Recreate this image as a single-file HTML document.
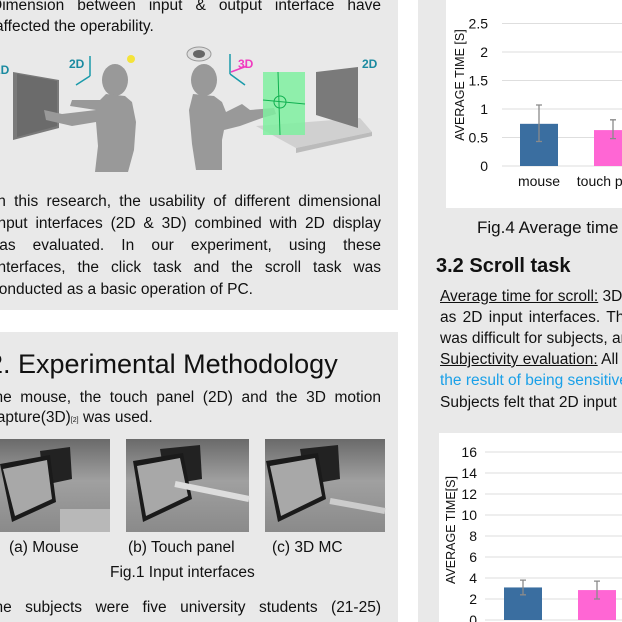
<!DOCTYPE html>
<html><head><meta charset="utf-8">
<style>
*{margin:0;padding:0;box-sizing:border-box}
body{width:622px;height:622px;overflow:hidden;background:#fff;position:relative;font-family:"Liberation Sans",Arial,sans-serif;color:#111}
.abs{position:absolute}
.panel{position:absolute;background:#e9e9e9}
.line{position:absolute;font-size:15.5px;white-space:nowrap;line-height:20px}
.just{text-align:justify;text-align-last:justify}
u{text-decoration:underline}
</style></head><body>
<div class="panel" style="left:0;top:0;width:398px;height:310px"></div>
<div class="panel" style="left:0;top:332px;width:398px;height:290px"></div>
<div class="panel" style="left:418px;top:0;width:204px;height:622px"></div>

<div class="line just" style="left:-9px;top:-4px;width:390px">Dimension between input &amp; output interface have</div>
<div class="line" style="left:-5px;top:17px">affected the operability.</div>

<svg class="abs" style="left:0;top:40px" width="400" height="140" viewBox="0 0 400 140">
  <text x="-6" y="34" font-size="12" font-weight="bold" fill="#1a8aa0" font-family="Liberation Sans">2D</text>
  <polygon points="13,32 59,40 59,88 13,100" fill="#7a7a7a"/>
  <polygon points="17,34 57,41 57,86 17,97" fill="#6b6b6b"/>
  <text x="69" y="28" font-size="12" font-weight="bold" fill="#1a8aa0" font-family="Liberation Sans">2D</text>
  <path d="M90,36 L90,16 M90,36 L76,45" stroke="#1a9aaa" stroke-width="1.5" fill="none"/>
  <circle cx="131" cy="19" r="4" fill="#f4e33a"/>
  <ellipse cx="115" cy="40" rx="13" ry="16" fill="#999"/>
  <path d="M106,54 L100,60 L72,60 L70,66 L96,70 L62,74 L44,70 L46,80 L72,86 L96,82 L98,106 L95,132 L128,132 L134,110 L136,82 L132,62 L125,56 Z" fill="#999"/>
  <text x="238" y="28" font-size="12" font-weight="bold" fill="#f03cc0" font-family="Liberation Sans">3D</text>
  <path d="M230,34 L230,14 M230,34 L245,45" stroke="#1a9aaa" stroke-width="1.5" fill="none"/>
  <path d="M231,32 L247,26" stroke="#f03cc0" stroke-width="1.5"/>
  <ellipse cx="199" cy="14" rx="12" ry="7" fill="#ddd" stroke="#999"/>
  <ellipse cx="199" cy="14" rx="6" ry="4" fill="#666"/>
  <ellipse cx="204" cy="40" rx="13" ry="16" fill="#999"/>
  <path d="M193,54 L189,70 L192,104 L196,130 L222,130 L222,100 L224,90 L240,86 L262,78 L276,74 L274,68 L250,70 L242,64 L226,72 L222,62 L214,56 Z" fill="#999"/>
  <polygon points="256,86 360,78 372,92 296,108" fill="#d0d0d0"/>
  <polygon points="296,108 372,92 372,96 296,113" fill="#bbb"/>
  <rect x="263" y="32" width="42" height="63" fill="#7ff0a0" opacity="0.85"/>
  <path d="M263,60 L305,64 M278,32 L280,95" stroke="#10b050" stroke-width="1"/>
  <circle cx="280" cy="62" r="6" fill="none" stroke="#10b050"/>
  <polygon points="316,32 358,27 358,88 316,75" fill="#7a7a7a"/>
  <text x="362" y="28" font-size="12" font-weight="bold" fill="#1a8aa0" font-family="Liberation Sans">2D</text>
</svg>

<div class="line just" style="left:-7px;top:192px;width:388px">In this research, the usability of different dimensional</div>
<div class="line just" style="left:-6px;top:214px;width:387px">input interfaces (2D &amp; 3D) combined with 2D display</div>
<div class="line just" style="left:-12px;top:236px;width:393px">was evaluated. In our experiment, using these</div>
<div class="line just" style="left:-6px;top:258px;width:387px">interfaces, the click task and the scroll task was</div>
<div class="line" style="left:-9px;top:280px">conducted as a basic operation of PC.</div>

<div class="abs" style="left:-12px;top:346px;font-family:'Liberation Sans',sans-serif;font-size:27px;white-space:nowrap;line-height:36px">2. Experimental Methodology</div>
<div class="line just" style="left:-15px;top:388px;width:396px">The mouse, the touch panel (2D) and the 3D motion</div>
<div class="line" style="left:-11px;top:408px">capture(3D)<span style="font-size:7px">[2]</span> was used.</div>

<svg class="abs" style="left:0;top:439px" width="400" height="94">
  <defs><linearGradient id="pg" x1="0" y1="0" x2="0" y2="1"><stop offset="0" stop-color="#6a6a6a"/><stop offset="0.45" stop-color="#a0a0a0"/><stop offset="1" stop-color="#8a8a8a"/></linearGradient></defs>
  <g><rect x="0" y="0" width="110" height="93" fill="url(#pg)"/><polygon points="40,12 70,8 72,40 44,46" fill="#222"/><polygon points="0,25 50,16 56,63 12,83" fill="#1a1a1a"/><polygon points="3,30 47,21 52,60 15,77" fill="#a8a8a8"/><rect x="60" y="70" width="50" height="23" fill="#b8b8b8"/></g>
  <g><rect x="126" y="0" width="123" height="93" fill="url(#pg)"/><polygon points="160,10 200,6 202,40 166,46" fill="#222"/><polygon points="133,22 183,14 192,60 143,83" fill="#1a1a1a"/><polygon points="137,27 180,19 188,57 146,77" fill="#a8a8a8"/><path d="M175,45 L249,60" stroke="#ddd" stroke-width="6"/></g>
  <g><rect x="265" y="0" width="120" height="93" fill="url(#pg)"/><polygon points="300,10 338,6 340,40 306,46" fill="#222"/><polygon points="266,22 318,14 326,60 278,83" fill="#1a1a1a"/><polygon points="270,27 315,19 322,57 281,77" fill="#a8a8a8"/><path d="M330,62 L385,72" stroke="#ccc" stroke-width="6"/></g>
</svg>
<div class="line" style="left:9px;top:538px">(a) Mouse</div>
<div class="line" style="left:128px;top:538px">(b) Touch panel</div>
<div class="line" style="left:272px;top:538px">(c) 3D MC</div>
<div class="line" style="left:110px;top:563px">Fig.1 Input interfaces</div>
<div class="line just" style="left:-15px;top:598px;width:396px">The subjects were five university students (21-25)</div>

<div class="abs" style="left:446px;top:0;width:176px;height:208px;background:#fff"></div>
<svg id="c1" class="abs" style="left:446px;top:0" width="176" height="208"></svg>
<div class="abs" style="left:477px;top:218px;font-family:'Liberation Sans',sans-serif;font-size:17px;white-space:nowrap">Fig.4 Average time</div>
<div class="abs" style="left:436px;top:255px;font-family:'Liberation Sans',sans-serif;font-size:20px;font-weight:bold;white-space:nowrap">3.2 Scroll task</div>

<div class="line" style="left:440px;top:287px"><u>Average time for scroll:</u> 3D</div>
<div class="line" style="left:440px;top:308px;word-spacing:2px">as 2D input interfaces. The</div>
<div class="line" style="left:440px;top:329px">was difficult for subjects, and</div>
<div class="line" style="left:440px;top:350px"><u>Subjectivity evaluation:</u> All</div>
<div class="line" style="left:440px;top:371px;color:#1aa0e8">the result of being sensitive</div>
<div class="line" style="left:440px;top:393px">Subjects felt that 2D input</div>

<div class="abs" style="left:439px;top:433px;width:183px;height:189px;background:#fff"></div>
<svg id="c2" class="abs" style="left:439px;top:433px" width="183" height="189"></svg>

<script>
const clickCategories = ["mouse", "touch panel"];
const clickValues = [0.74, 0.63];
const clickErrLow = [0.43, 0.48];
const clickErrHigh = [1.07, 0.81];
const clickTicks = [0, 0.5, 1, 1.5, 2, 2.5, 3];

const scrollCategories = ["mouse", "touch panel"];
const scrollValues = [3.1, 2.85];
const scrollErrLow = [2.4, 2.0];
const scrollErrHigh = [3.8, 3.7];
const scrollTicks = [0, 2, 4, 6, 8, 10, 12, 14, 16];

const NS = "http://www.w3.org/2000/svg";
const colors = ["#3a6ea0", "#ff66d4"];
function mk(svg, tag, attrs) {
  const e = document.createElementNS(NS, tag);
  for (const k in attrs) e.setAttribute(k, attrs[k]);
  svg.appendChild(e);
  return e;
}
function chart(id, cats, vals, lo, hi, ticks, o) {
  const svg = document.getElementById(id);
  const y = v => o.y0 - (v - ticks[0]) / (ticks[ticks.length - 1] - ticks[0]) * (o.y0 - o.yTop);
  const x = i => o.xStart + i * o.step;
  ticks.forEach(t => {
    const g = mk(svg, "line", {x1: o.gx, x2: 200, y1: y(t), y2: y(t), stroke: "#dedede", "stroke-width": 1});
    
    
    const tl = mk(svg, "text", {x: o.tx, y: y(t) + 5, "text-anchor": "end", "font-size": 14, "font-family": o.font, fill: "#111"});
    tl.textContent = t;
    
    
  });
  cats.forEach((c, i) => {
    const b = mk(svg, "rect", {x: x(i), y: y(vals[i]), width: o.bw, height: y(ticks[0]) - y(vals[i]), fill: colors[i]});
    
    
    const cx = x(i) + o.bw / 2;
    const e = mk(svg, "path", {d: `M${cx},${y(lo[i])}V${y(hi[i])}M${cx-3},${y(lo[i])}h6M${cx-3},${y(hi[i])}h6`, stroke: "#8a8a8a", "stroke-width": 1.3, fill: "none"});
    
    
    if (o.labels) {
      const l = mk(svg, "text", {x: cx, y: o.y0 + 20, "text-anchor": "middle", "font-size": 14, "font-family": o.font, fill: "#111"});
      l.textContent = c;
      
      
    }
  });
  const t = mk(svg, "text", {transform: `translate(${o.titleX},${o.titleY}) rotate(-90)`, "text-anchor": "middle", "font-size": 12.5, "font-family": o.font, fill: "#111"});
  t.textContent = o.title;
  
  
}
chart("c1", clickCategories, clickValues, clickErrLow, clickErrHigh, clickTicks,
  {y0: 166, yTop: -5, gx: 56, tx: 42, xStart: 74, step: 74, bw: 38, labels: true, font: "Liberation Sans, sans-serif", title: "AVERAGE TIME [S]", titleX: 18, titleY: 85});
chart("c2", scrollCategories, scrollValues, scrollErrLow, scrollErrHigh, scrollTicks,
  {y0: 187, yTop: 19, gx: 46, tx: 38, xStart: 65, step: 74, bw: 38, labels: false, font: "Liberation Sans, sans-serif", title: "AVERAGE TIME[S]", titleX: 16, titleY: 97});
</script>
</body></html>
